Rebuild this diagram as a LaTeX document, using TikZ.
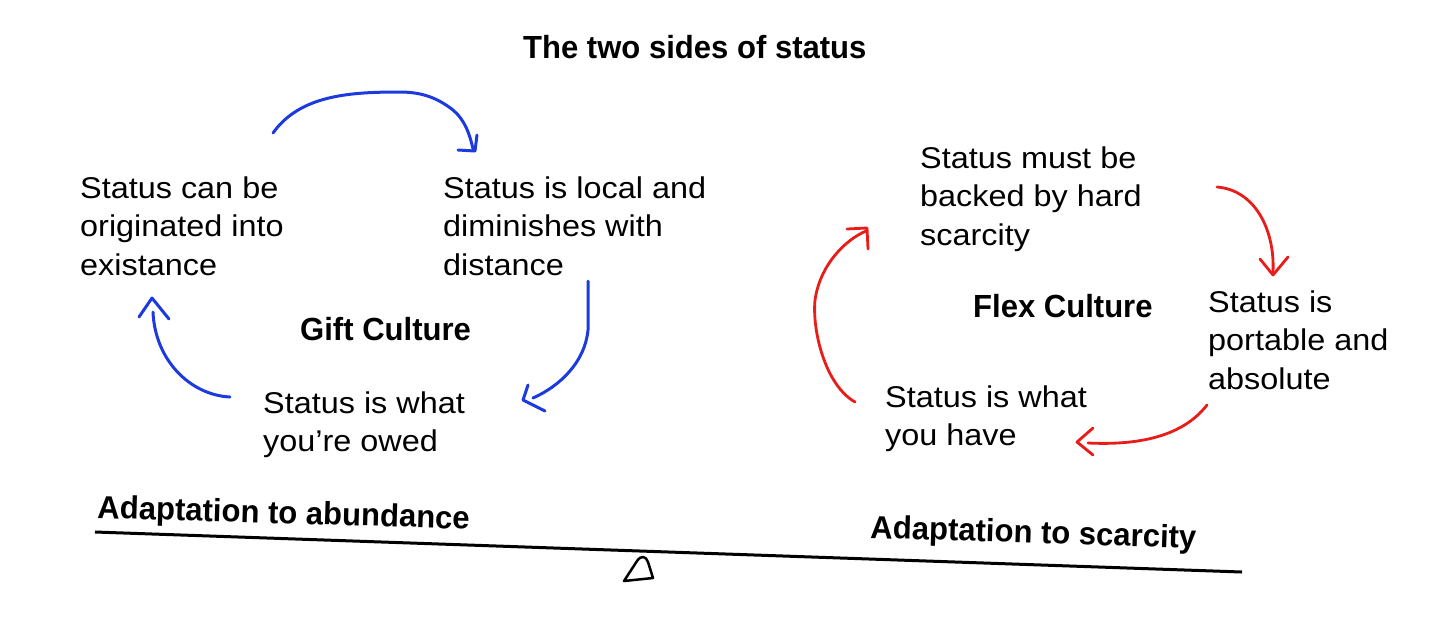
\documentclass[tikz,border=0pt]{standalone}
\usepackage{fontspec}
\setmainfont{Liberation Sans}[FakeStretch=1.08]
\newfontfamily\boldf{Liberation Sans}[FakeStretch=0.97]
\definecolor{inkblue}{RGB}{28,58,222}
\definecolor{inkred}{RGB}{232,28,24}
\tikzset{
  body/.style={anchor=base west, inner sep=0pt, align=left, font=\fontsize{30}{38.5}\selectfont},
  heading/.style={anchor=base west, inner sep=0pt, font=\boldf\bfseries\fontsize{32}{38}\selectfont},
  bluestroke/.style={draw=inkblue, line width=3pt, line cap=round, line join=round},
  redstroke/.style={draw=inkred, line width=2.8pt, line cap=round, line join=round},
  beam/.style={draw=black, line width=3pt},
}
\begin{document}
\begin{tikzpicture}[x=1pt, y=-1pt]
\useasboundingbox (0,0) rectangle (1439,633);
% title
\node[heading] (title) at (523,58) {The two sides of status};
% gift culture side (anchor = baseline of last line)
\node[body] (orig) at (80,275) {Status can be\\originated into\\existance};
\node[body] (local) at (443,275) {Status is local and\\diminishes with\\distance};
\node[heading] (gift) at (300,340) {Gift Culture};
\node[body] (owed) at (263,451.5) {Status is what\\you’re owed};
% flex culture side
\node[body] (backed) at (920,245) {Status must be\\backed by hard\\scarcity};
\node[heading] (flex) at (973,317) {Flex Culture};
\node[body] (portable) at (1208,389) {Status is\\portable and\\absolute};
\node[body] (have) at (885,445.5) {Status is what\\you have};
% balance
\node[heading, rotate=-1.7] (abund) at (97,518) {Adaptation to abundance};
\node[heading, rotate=-1.8] (scarce) at (870,538) {Adaptation to scarcity};
\coordinate (beamL) at (95,532);
\coordinate (beamR) at (1242,572);
\draw[beam] (beamL) -- (beamR);
\coordinate (fulA) at (624,581);
\coordinate (fulB) at (653,578);
\draw[line width=2.5pt, line join=round] (fulA) -- (637,561) .. controls (641,555) and (646,556) .. (648,562) -- (fulB) -- cycle;
% blue arrows
\coordinate (b1s) at (273,133);
\coordinate (b1e) at (473,149);
\draw[bluestroke] (b1s) .. controls (300,95) and (350,92) .. (400,92) .. controls (425,92) and (440,100) .. (453,110) .. controls (465,120) and (470,135) .. (b1e);
\draw[bluestroke] (458,150) -- (475,151) -- (477,135);
\coordinate (b2s) at (588,281);
\coordinate (b2e) at (533,398);
\draw[bluestroke] (b2s) -- (588,330) .. controls (585,362) and (560,386) .. (b2e);
\draw[bluestroke] (528,385) -- (523,400) -- (545,411);
\coordinate (b3s) at (230,397);
\coordinate (b3e) at (153,312);
\draw[bluestroke] (b3s) .. controls (190,395) and (155,360) .. (b3e);
\draw[bluestroke] (139,317) -- (152,298) -- (169,319);
% red arrows
\coordinate (r1s) at (855,402);
\coordinate (r1e) at (866,231);
\draw[redstroke] (r1s) .. controls (825,385) and (812,330) .. (815,300) .. controls (820,265) and (845,240) .. (r1e);
\draw[redstroke] (847,229) -- (867,228) -- (868,249);
\coordinate (r2s) at (1217,187);
\coordinate (r2e) at (1273,272);
\draw[redstroke] (r2s) .. controls (1255,190) and (1275,230) .. (r2e);
\draw[redstroke] (1260,259) -- (1273,275) -- (1288,257);
\coordinate (r3s) at (1207,405);
\coordinate (r3e) at (1088,443);
\draw[redstroke] (r3s) .. controls (1180,440) and (1130,445) .. (r3e);
\draw[redstroke] (1093,428) -- (1077,442) -- (1093,455);
\end{tikzpicture}
\end{document}
